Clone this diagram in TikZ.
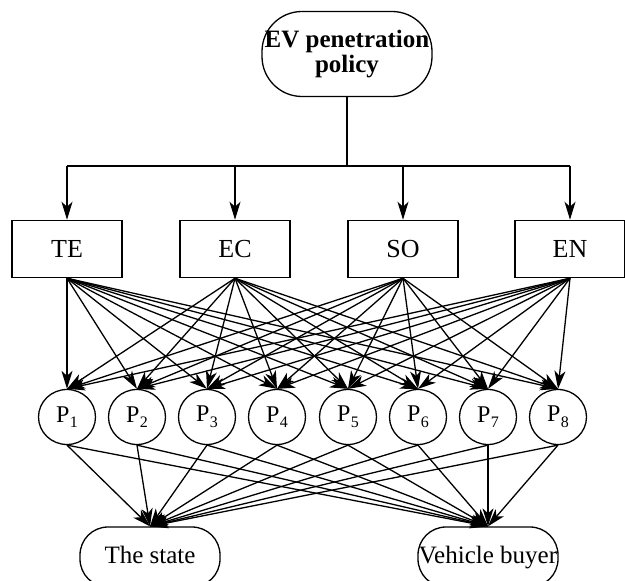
\documentclass[tikz,border=0pt]{standalone}
\usepackage{fontspec}
\setmainfont{Liberation Serif}
\usepackage{tikz}
\usetikzlibrary{arrows.meta,shapes.geometric}

\newcommand{\psub}[1]{P\kern0.3pt\raisebox{-2.8pt}{\fontsize{8}{8}\selectfont #1}}

\begin{document}
\begin{tikzpicture} [x=0.5pt, y=-0.5pt, line width=0.65pt,
    >={Stealth[length=9pt,width=5.5pt,inset=2.5pt]},
    goal/.style={draw,inner sep=0pt,align=center},
    crit/.style={draw,line width=0.75pt,minimum width=55pt,minimum height=28.5pt,inner sep=0pt,font=\fontsize{13}{15}\selectfont},
    alt/.style={draw,ellipse,minimum width=28.5pt,minimum height=27.5pt,inner sep=0pt,font=\fontsize{12}{14}\selectfont},
    actor/.style={goal,rounded corners=14pt,minimum width=70pt,minimum height=30pt,text height=9pt,text depth=3pt,font=\fontsize{12.5}{14}\selectfont}
  ]
  \useasboundingbox (0,0) rectangle (625,581);
  % top
  \node[goal,rounded corners=20pt,minimum width=85pt,minimum height=42.5pt,font=\bfseries\fontsize{12.5}{12.5}\selectfont] (pol) at (347,54) {EV penetration\\policy};
  % criteria
  \node[crit] (te) at (67,249) {TE};
  \node[crit] (ec) at (235,249) {EC};
  \node[crit] (so) at (403,249) {SO};
  \node[crit] (en) at (570,249) {EN};
  % alternatives
  \foreach \i/\x in {1/67,2/137,3/207,4/277,5/348,6/418,7/488,8/558}
    \node[alt] (p\i) at (\x,417) {\psub{\i}};
  % actors
  \node[actor] (st) at (150,557) {The state};
  \node[actor] (vb) at (488,557) {Vehicle buyer};
  %TODO: bus
  \coordinate (bus) at (347,166);
  \draw (pol.south) -- (bus);
  \draw (te.north |- bus) -- (en.north |- bus);
  \path[->]
  (te.north |- bus) edge (te.north)
  (ec.north |- bus) edge (ec.north)
  (so.north |- bus) edge (so.north)
  (en.north |- bus) edge (en.north)
  ;
  \foreach \c in {te,ec,so,en}
    \foreach \i in {1,...,8}
      \path[->] (\c.south) edge (p\i.north);
  \foreach \i in {1,...,8}
    \path[->] (p\i.south) edge (st.north)
              (p\i.south) edge (vb.north);
\end{tikzpicture}
\end{document}
